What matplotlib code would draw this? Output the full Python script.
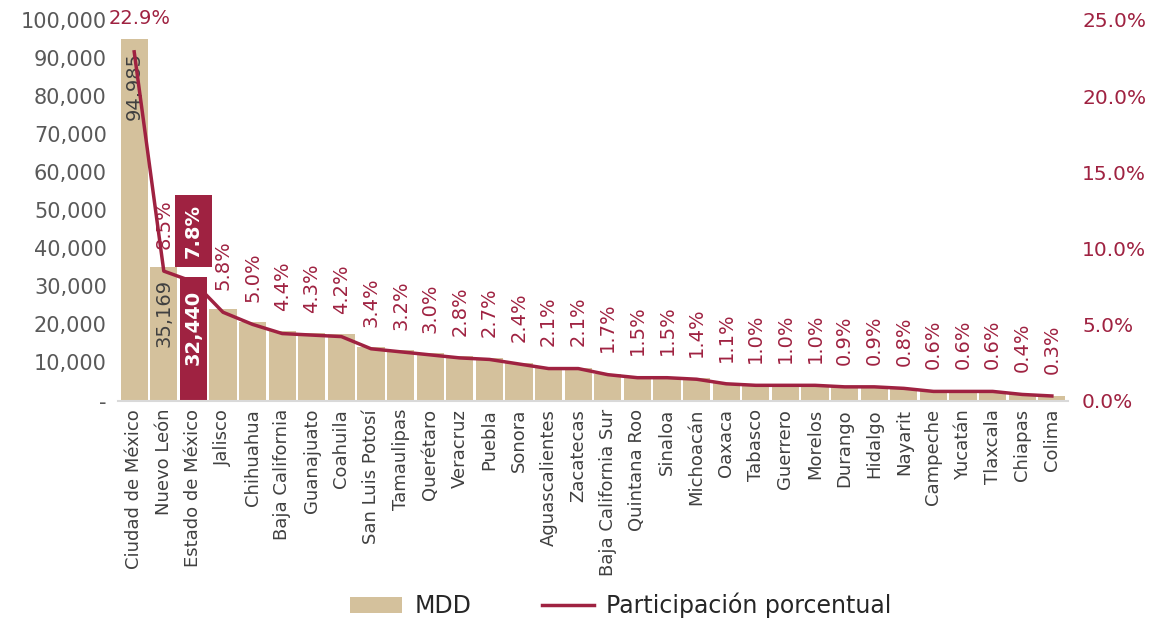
import numpy as np
import matplotlib

matplotlib.use("Agg")
import matplotlib.pyplot as plt
from matplotlib.patches import Patch
from matplotlib.ticker import FuncFormatter, MultipleLocator

estados = [
    "Ciudad de México", "Nuevo León", "Estado de México", "Jalisco", "Chihuahua",
    "Baja California", "Guanajuato", "Coahuila", "San Luis Potosí", "Tamaulipas",
    "Querétaro", "Veracruz", "Puebla", "Sonora", "Aguascalientes", "Zacatecas",
    "Baja California Sur", "Quintana Roo", "Sinaloa", "Michoacán", "Oaxaca",
    "Tabasco", "Guerrero", "Morelos", "Durango", "Hidalgo", "Nayarit", "Campeche",
    "Yucatán", "Tlaxcala", "Chiapas", "Colima",
]
mdd = [
    94985, 35169, 32440, 24000, 20700, 18200, 17800, 17400, 14100, 13300,
    12400, 11600, 11200, 9900, 8700, 8600, 7000, 6200, 6100, 5800, 4500,
    4300, 4100, 4000, 3900, 3700, 3400, 2500, 2500, 2400, 1800, 1300,
]
participacion = [
    22.9, 8.5, 7.8, 5.8, 5.0, 4.4, 4.3, 4.2, 3.4, 3.2, 3.0, 2.8, 2.7, 2.4,
    2.1, 2.1, 1.7, 1.5, 1.5, 1.4, 1.1, 1.0, 1.0, 1.0, 0.9, 0.9, 0.8, 0.6,
    0.6, 0.6, 0.4, 0.3,
]
destacado = "Estado de México"

TAN = "#D4C19C"
GUINDA = "#9F2241"
GRIS = "#595959"

plt.rcParams["font.family"] = ["DejaVu Sans"]

fig, ax = plt.subplots(figsize=(11.56, 6.21), dpi=100)
fig.subplots_adjust(left=0.102, right=0.924, top=0.968, bottom=0.355)

x = np.arange(len(estados))
colores = [GUINDA if e == destacado else TAN for e in estados]
ax.bar(x, mdd, width=0.92, color=colores, zorder=2)
ax.set_xlim(-0.55, len(estados) - 0.45)
ax.set_ylim(0, 100000)
ax.yaxis.set_major_locator(MultipleLocator(10000))
ax.yaxis.set_major_formatter(
    FuncFormatter(lambda v, p: "-" if v == 0 else f"{v:,.0f}")
)
ax.set_xticks(x)
ax.set_xticklabels(estados, rotation=90, fontsize=13, color="#404040")
ax.tick_params(axis="y", labelsize=15, labelcolor=GRIS, length=0, pad=8)
ax.tick_params(axis="x", length=0, pad=6)
for s in ["top", "right", "left"]:
    ax.spines[s].set_visible(False)
ax.spines["bottom"].set_color("#D9D9D9")
ax.spines["bottom"].set_linewidth(1.5)

# etiquetas de valor en las tres primeras barras
for i in range(3):
    destac = estados[i] == destacado
    ax.annotate(
        f"{mdd[i]:,}", (x[i], mdd[i]), xytext=(0, -9), textcoords="offset points",
        rotation=90, ha="center", va="top", fontsize=14,
        color="white" if destac else "#404040",
        fontweight="bold" if destac else "normal", zorder=4,
    )

ax2 = ax.twinx()
linea, = ax2.plot(x, participacion, color=GUINDA, linewidth=2.5, zorder=3)
ax2.set_ylim(0, 25)
ax2.yaxis.set_major_locator(MultipleLocator(5))
ax2.yaxis.set_major_formatter(FuncFormatter(lambda v, p: f"{v:.1f}%"))
ax2.tick_params(axis="y", labelsize=14.5, labelcolor=GUINDA, length=0, pad=10)
for s in ["top", "right", "left", "bottom"]:
    ax2.spines[s].set_visible(False)

for i, p in enumerate(participacion):
    if i == 0:
        ax2.annotate(
            f"{p:.1f}%", (x[i], p), xytext=(4, 17), textcoords="offset points",
            ha="center", va="bottom", fontsize=14, color=GUINDA,
        )
    elif estados[i] == destacado:
        ax2.annotate(
            f"{p:.1f}%", (x[i], p), xytext=(0, 17), textcoords="offset points",
            rotation=90, ha="center", va="bottom", fontsize=14, color="white",
            fontweight="bold",
            bbox=dict(boxstyle="square,pad=0.45", facecolor=GUINDA, edgecolor="none"),
        )
    else:
        ax2.annotate(
            f"{p:.1f}%", (x[i], p), xytext=(0, 16), textcoords="offset points",
            rotation=90, ha="center", va="bottom", fontsize=14, color=GUINDA,
        )

leg = fig.legend(
    [Patch(facecolor=TAN), linea], ["MDD", "Participación porcentual"],
    loc="lower center", bbox_to_anchor=(0.537, -0.03), ncol=2,
    frameon=False, fontsize=17, handlelength=2.2, columnspacing=3.0,
    handletextpad=0.5,
)
for t in leg.get_texts():
    t.set_color("#262626")

fig.savefig("out.png", dpi=100)
